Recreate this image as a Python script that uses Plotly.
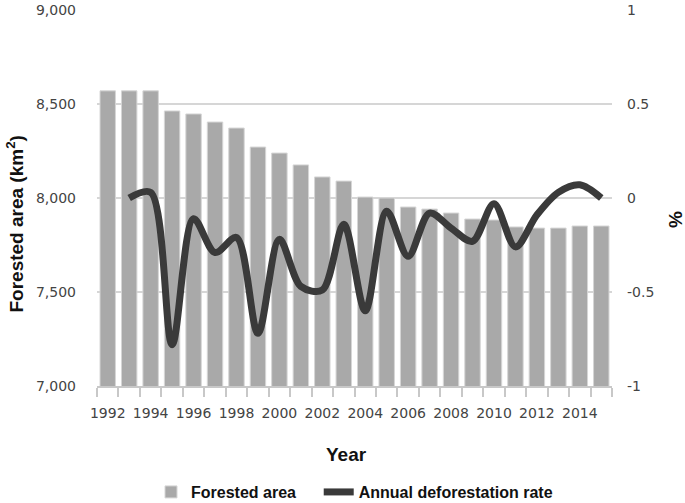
import plotly.graph_objects as go

years = list(range(1992, 2016))
forested_area = [8570, 8570, 8570, 8463, 8447, 8404, 8372, 8271, 8239, 8176, 8112, 8090,
                 8005, 8000, 7952, 7941, 7920, 7888, 7883, 7846, 7840, 7840, 7851, 7851]
rate_years = list(range(1993, 2016))
deforestation_rate = [0.0, 0.03, -0.78, -0.11, -0.29, -0.21, -0.72, -0.22, -0.47, -0.49, -0.14,
                      -0.60, -0.07, -0.31, -0.08, -0.16, -0.23, -0.03, -0.26, -0.09, 0.03, 0.07, 0.0]
x_ticks = list(range(1992, 2015, 2))

fig = go.Figure()
fig.add_trace(go.Bar(
    x=years, y=forested_area, name="Forested area\u00a0\u00a0\u00a0\u00a0", width=0.72,
    marker=dict(color="#a9a9a9", line=dict(color="#d6d6d6", width=1)),
))
fig.add_trace(go.Scatter(
    x=rate_years, y=deforestation_rate, name="Annual deforestation rate", yaxis="y2",
    mode="lines", line=dict(color="#3a3a3a", width=7, shape="spline", smoothing=0.9),
))

tickfont = dict(family="DejaVu Sans", size=14, color="#444444")
titlefont = dict(family="Liberation Sans", size=19, color="#111111", weight="bold")
fig.update_layout(
    width=685, height=503,
    margin=dict(l=97, r=73, t=10, b=117, autoexpand=False),
    plot_bgcolor="white", paper_bgcolor="white",
    showlegend=True,
    legend=dict(orientation="h", x=0.5, xanchor="center", y=-0.282, yanchor="middle",
                font=dict(family="Liberation Sans", size=16, color="#111111", weight="bold"),
                traceorder="normal"),
    xaxis=dict(
        range=[1991.5, 2015.5], tickvals=x_ticks, ticktext=[str(v) for v in x_ticks],
        ticks="", showline=True, linecolor="#c8c8c8", linewidth=1.5,
        showgrid=False, zeroline=False, tickfont=tickfont, ticklabelstandoff=13,
        minor=dict(ticks="outside", tick0=1991.5, dtick=1, ticklen=9, tickcolor="#c8c8c8", tickwidth=1.5),
    ),
    yaxis=dict(
        range=[7000, 9000], tickvals=[7000, 7500, 8000, 8500, 9000], tickformat=",",
        showgrid=True, gridcolor="#d6d6d6", gridwidth=1.5, zeroline=False,
        tickfont=tickfont, ticklabelstandoff=20,
    ),
    yaxis2=dict(
        range=[-1, 1], tickvals=[-1, -0.5, 0, 0.5, 1], ticktext=["-1", "-0.5", "0", "0.5", "1"],
        overlaying="y", side="right", showgrid=False, zeroline=False,
        tickfont=tickfont, ticklabelstandoff=14,
    ),
    annotations=[
        dict(text="Forested area (km<sup>2</sup>)", xref="paper", yref="paper", x=-0.160, y=0.431,
             textangle=-90, showarrow=False, font=titlefont, xanchor="center", yanchor="middle",
             borderpad=0),
        dict(text="Year", xref="paper", yref="paper", x=0.4835, y=-0.1835,
             showarrow=False, font=titlefont, xanchor="center", yanchor="middle", borderpad=0),
        dict(text="%", xref="paper", yref="paper", x=1.1223, y=0.444, textangle=-90,
             showarrow=False, font=titlefont, xanchor="center", yanchor="middle", borderpad=0),
    ],
)

fig.write_html("out.html", config={"displayModeBar": False},
               post_script="document.body.style.margin='0';document.body.style.overflow='hidden';")
